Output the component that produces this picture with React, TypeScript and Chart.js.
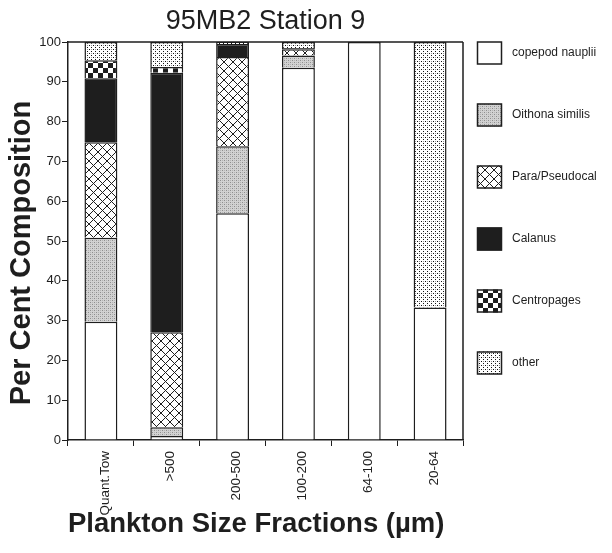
import React, { useEffect, useRef } from "react";
import { Chart, registerables } from "chart.js";

Chart.register(...registerables);

const categories = ["Quant.Tow", ">500", "200-500", "100-200", "64-100", "20-64"];
const seriesNames = ["copepod nauplii", "Oithona similis", "Para/Pseudocal", "Calanus", "Centropages", "other"];
const nauplii = [29.7, 1.0, 57.0, 93.5, 100, 33.3];
const oithona = [21.1, 2.2, 16.8, 3.1, 0, 0];
const para = [24.0, 23.9, 22.4, 1.6, 0, 0];
const calanus = [16.1, 65.2, 3.3, 0.3, 0, 0];
const centropages = [4.5, 1.4, 0, 0, 0, 0];
const other = [4.6, 6.3, 0.5, 1.5, 0, 66.7];
const chartTitle = "95MB2 Station 9";
const yTitle = "Per Cent Composition";
const xTitle = "Plankton Size Fractions (µm)";

const FONT = "'Liberation Sans', Arial, Helvetica, sans-serif";
const INK = "#1e1e1e";

function makePattern(kind: string): CanvasPattern | string {
  const c = document.createElement("canvas");
  const ctx = c.getContext("2d");
  if (!ctx) return "#ccc";
  if (kind === "gray") {
    c.width = 4; c.height = 4;
    ctx.fillStyle = "#d2d2d2"; ctx.fillRect(0, 0, 4, 4);
    ctx.fillStyle = "#8e8e8e";
    ctx.fillRect(0, 0, 1, 1); ctx.fillRect(2, 2, 1, 1);
    ctx.fillStyle = "#b4b4b4";
    ctx.fillRect(2, 0, 1, 1); ctx.fillRect(0, 2, 1, 1);
  } else if (kind === "dots") {
    c.width = 4; c.height = 4;
    ctx.fillStyle = "#ffffff"; ctx.fillRect(0, 0, 4, 4);
    ctx.fillStyle = "#111";
    ctx.fillRect(1, 1, 1, 1); ctx.fillRect(3, 3, 1, 1);
    ctx.fillStyle = "#999";
    ctx.fillRect(3, 1, 1, 1);
  } else if (kind === "cross") {
    c.width = 9; c.height = 9;
    ctx.fillStyle = "#ffffff"; ctx.fillRect(0, 0, 9, 9);
    ctx.fillStyle = "#1e1e1e";
    for (let i = 0; i < 9; i++) {
      ctx.fillRect(i, i, 1, 1);
      ctx.fillRect(8 - i, i, 1, 1);
    }
  } else if (kind === "checker") {
    c.width = 10; c.height = 10;
    ctx.fillStyle = "#1e1e1e"; ctx.fillRect(0, 0, 10, 10);
    ctx.fillStyle = "#ffffff";
    ctx.fillRect(0, 0, 5, 5); ctx.fillRect(5, 5, 5, 5);
  }
  const p = ctx.createPattern(c, "repeat");
  return p || "#ccc";
}

const framePlugin = {
  id: "frame",
  afterDatasetsDraw(chart: any) {
    const { ctx, chartArea } = chart;
    const { left, right, top, bottom } = chartArea;
    ctx.save();
    ctx.strokeStyle = INK;
    ctx.lineWidth = 1.5;
    ctx.beginPath();
    ctx.moveTo(left, top);
    ctx.lineTo(right, top);
    ctx.moveTo(right, top);
    ctx.lineTo(right, bottom);
    ctx.stroke();
    ctx.restore();
  },
};

const yTitlePlugin = {
  id: "yTitle",
  afterDraw(chart: any) {
    const { ctx, chartArea } = chart;
    ctx.save();
    ctx.translate(14, (chartArea.top + chartArea.bottom) / 2 + 12);
    ctx.rotate(-Math.PI / 2);
    ctx.fillStyle = INK;
    ctx.font = `bold 29px ${FONT}`;
    ctx.textAlign = "center";
    ctx.textBaseline = "middle";
    ctx.fillText(yTitle, 0, 0);
    ctx.restore();
  },
};

const legendPlugin = {
  id: "sideLegend",
  afterDraw(chart: any) {
    const { ctx, chartArea } = chart;
    const x0 = chartArea.right + 14;
    ctx.save();
    chart.data.datasets.forEach((ds: any, i: number) => {
      const cy = chartArea.top + 11 + i * 62;
      ctx.fillStyle = ds.backgroundColor;
      ctx.fillRect(x0, cy - 11.5, 25, 23);
      ctx.strokeStyle = INK;
      ctx.lineWidth = 1.5;
      ctx.strokeRect(x0 + 0.5, cy - 11, 24, 22);
      ctx.fillStyle = INK;
      ctx.font = `12px ${FONT}`;
      ctx.textBaseline = "middle";
      ctx.textAlign = "left";
      ctx.fillText(ds.label, x0 + 35, cy);
    });
    ctx.restore();
  },
};

export default function App() {
  const ref = useRef<HTMLCanvasElement | null>(null);
  useEffect(() => {
    if (!ref.current) return;
    const fills = [
      "#ffffff",
      makePattern("gray"),
      makePattern("cross"),
      "#1e1e1e",
      makePattern("checker"),
      makePattern("dots"),
    ];
    const values = [nauplii, oithona, para, calanus, centropages, other];
    const chart = new Chart(ref.current, {
      type: "bar",
      data: {
        labels: categories,
        datasets: seriesNames.map((name, i) => ({
          label: name,
          data: values[i],
          backgroundColor: fills[i] as any,
          borderColor: INK,
          borderWidth: 1.5,
          barPercentage: 0.5,
          categoryPercentage: 1,
        })),
      },
      options: {
        animation: false,
        responsive: true,
        maintainAspectRatio: false,
        layout: { padding: { left: 0, right: 141, top: 0, bottom: 0 } },
        plugins: {
          legend: { display: false },
          tooltip: { enabled: false },
          title: {
            display: true,
            text: chartTitle,
            fullSize: false,
            color: INK,
            font: { family: FONT, size: 27, weight: "normal", lineHeight: 1 },
            padding: { top: 0, bottom: 7 },
          },
        },
        scales: {
          x: {
            stacked: true,
            grid: { display: true, drawOnChartArea: false, drawTicks: true, tickLength: 6, color: INK, offset: true },
            border: { display: true, color: INK, width: 1.5 },
            ticks: {
              color: INK,
              font: { family: FONT, size: 13.5 },
              minRotation: 90,
              maxRotation: 90,
              padding: 5,
              labelOffset: 4,
              autoSkip: false,
            },
            title: {
              display: true,
              text: xTitle,
              align: "start",
              color: INK,
              font: { family: FONT, size: 27.5, weight: "bold", lineHeight: 1 },
              padding: { top: 0, bottom: 7 },
            },
            afterFit(scale: any) {
              scale.height = 105;
            },
          },
          y: {
            stacked: true,
            min: 0,
            max: 100,
            grid: { display: true, drawOnChartArea: false, drawTicks: true, tickLength: 6, color: INK },
            border: { display: true, color: INK, width: 1.5 },
            ticks: {
              stepSize: 10,
              color: INK,
              font: { family: FONT, size: 13 },
              padding: 1,
            },
            afterFit(scale: any) {
              scale.width = 60;
            },
          },
        },
      },
      plugins: [framePlugin, yTitlePlugin, legendPlugin],
    });
    return () => chart.destroy();
  }, []);
  return (
    <div style={{ width: 596, height: 537, position: "relative" }}>
      <canvas ref={ref} />
    </div>
  );
}
